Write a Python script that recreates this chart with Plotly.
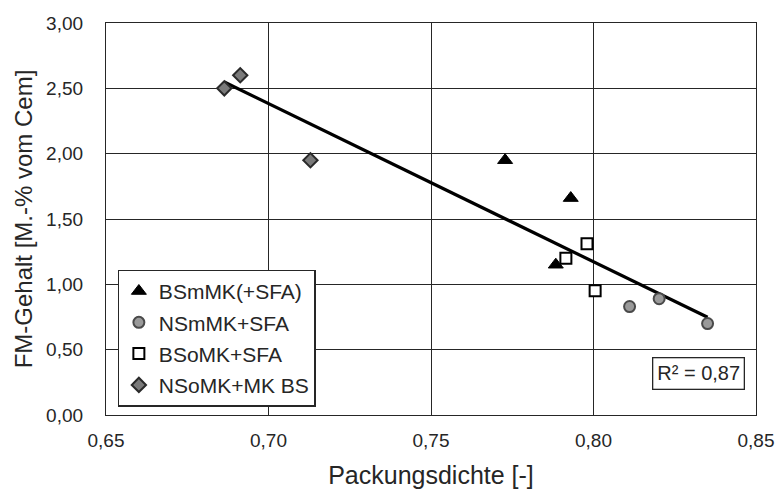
import numpy as np
import plotly.graph_objects as go

# --- data ---
bsmmk_x = [0.7728, 0.7930, 0.7884]
bsmmk_y = [1.95, 1.66, 1.15]

nsmmk_x = [0.8111, 0.8202, 0.8351]
nsmmk_y = [0.83, 0.89, 0.70]

bsomk_x = [0.7980, 0.7915, 0.8005]
bsomk_y = [1.31, 1.20, 0.95]

nsomk_x = [0.6864, 0.6913, 0.7129]
nsomk_y = [2.50, 2.60, 1.95]

x_ticks = [0.65, 0.70, 0.75, 0.80, 0.85]
y_ticks = [0.0, 0.5, 1.0, 1.5, 2.0, 2.5, 3.0]

FONT = "Liberation Sans, Arial, sans-serif"
TXT = "#262626"

fig = go.Figure()

# linear trend line over all points
all_x = np.array(bsmmk_x + nsmmk_x + bsomk_x + nsomk_x)
all_y = np.array(bsmmk_y + nsmmk_y + bsomk_y + nsomk_y)
slope, intercept = np.polyfit(all_x, all_y, 1)
pred = slope * all_x + intercept
r2 = 1 - np.sum((all_y - pred) ** 2) / np.sum((all_y - all_y.mean()) ** 2)
lx = np.array([all_x.min(), all_x.max()])
fig.add_trace(go.Scatter(x=lx, y=slope * lx + intercept, mode="lines",
                         line=dict(color="black", width=3.2), showlegend=False,
                         hoverinfo="skip"))

fig.add_trace(go.Scatter(x=bsmmk_x, y=bsmmk_y, mode="markers", name="BSmMK(+SFA)",
                         legendgroup="a",
                         marker=dict(symbol="triangle-up", size=13, color="black",
                                     line=dict(color="black", width=1))))
fig.add_trace(go.Scatter(x=nsmmk_x, y=nsmmk_y, mode="markers", name="NSmMK+SFA",
                         legendgroup="b",
                         marker=dict(symbol="circle", size=11, color="#9a9a9a",
                                     line=dict(color="#4a4a4a", width=2))))
fig.add_trace(go.Scatter(x=bsomk_x, y=bsomk_y, mode="markers", name="BSoMK+SFA",
                         legendgroup="c",
                         marker=dict(symbol="square", size=11, color="white",
                                     line=dict(color="black", width=2))))
fig.add_trace(go.Scatter(x=nsomk_x, y=nsomk_y, mode="markers", name="NSoMK+MK BS",
                         legendgroup="d",
                         marker=dict(symbol="diamond", size=11, color="#7a7a7a",
                                     line=dict(color="#2a2a2a", width=2))))

fig.add_annotation(x=0.983, y=0.107, xref="paper", yref="paper",
                   xanchor="right", yanchor="middle",
                   text=("R² = %.2f" % r2).replace(".", ","), showarrow=False,
                   font=dict(family=FONT, size=20, color=TXT),
                   bordercolor="#262626", borderwidth=1.3, borderpad=4,
                   bgcolor="white")

axis_common = dict(showgrid=True, gridcolor="#262626", gridwidth=1.3,
                   showline=True, linecolor="#262626", linewidth=1.3, mirror=True,
                   zeroline=False, ticks="", automargin=False,
                   tickfont=dict(family=FONT, size=19, color=TXT),
                   tickformat=".2f")

fig.update_xaxes(range=[0.65, 0.85], tickvals=x_ticks,
                 title=dict(text="Packungsdichte [-]",
                            font=dict(family=FONT, size=25, color=TXT), standoff=16),
                 ticklabelstandoff=8, **axis_common)
fig.update_yaxes(range=[0.0, 3.0], tickvals=y_ticks,
                 title=dict(text="FM-Gehalt [M.-% vom Cem]",
                            font=dict(family=FONT, size=24, color=TXT), standoff=6),
                 ticklabelstandoff=18, **axis_common)

fig.update_layout(
    width=777, height=489,
    margin=dict(l=106, r=21, t=23, b=74),
    paper_bgcolor="white", plot_bgcolor="white",
    separators=", ",
    showlegend=True,
    legend=dict(x=0.0178, y=0.371, xanchor="left", yanchor="top",
                bgcolor="white", bordercolor="#262626", borderwidth=1.3,
                font=dict(family=FONT, size=21, color=TXT),
                tracegroupgap=1, itemwidth=30),
)

fig.write_html("out.html")
